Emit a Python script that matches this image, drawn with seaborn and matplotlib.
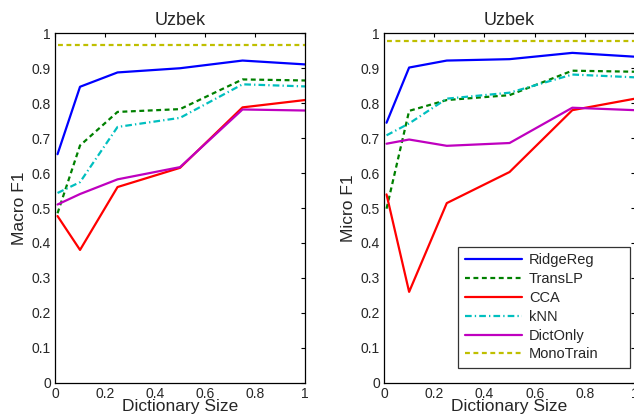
import pandas as pd
import numpy as np
import matplotlib
matplotlib.use("Agg")
import matplotlib.pyplot as plt
import seaborn as sns

# data
dict_size = [0.01, 0.1, 0.25, 0.5, 0.75, 1.0]
methods = ['RidgeReg', 'TransLP', 'CCA', 'kNN', 'DictOnly', 'MonoTrain']

macro_ridge = [0.654, 0.847, 0.888, 0.900, 0.922, 0.911]
macro_translp = [0.485, 0.679, 0.775, 0.783, 0.868, 0.865]
macro_cca = [0.477, 0.380, 0.560, 0.615, 0.788, 0.809]
macro_knn = [0.543, 0.574, 0.732, 0.758, 0.854, 0.848]
macro_dict = [0.510, 0.540, 0.582, 0.617, 0.782, 0.779]
macro_mono = [0.966] * 6

micro_ridge = [0.744, 0.902, 0.922, 0.926, 0.944, 0.933]
micro_translp = [0.498, 0.778, 0.809, 0.823, 0.893, 0.890]
micro_cca = [0.539, 0.260, 0.514, 0.603, 0.780, 0.813]
micro_knn = [0.708, 0.742, 0.813, 0.830, 0.882, 0.874]
micro_dict = [0.684, 0.696, 0.678, 0.686, 0.787, 0.780]
micro_mono = [0.977] * 6

colors = {'RidgeReg': (0, 0, 1), 'TransLP': (0, 0.5, 0), 'CCA': (1, 0, 0),
          'kNN': (0, 0.75, 0.75), 'DictOnly': (0.75, 0, 0.75), 'MonoTrain': (0.75, 0.75, 0)}
# matlab-ish short dashes
dashes = {'RidgeReg': None, 'TransLP': (2.2, 1.6), 'CCA': None,
          'kNN': (3.0, 1.4, 0.6, 1.4), 'DictOnly': None, 'MonoTrain': (2.2, 1.6)}


def to_long(vals):
    rows = []
    for m, v in zip(methods, vals):
        for x, y in zip(dict_size, v):
            rows.append({'size': x, 'f1': y, 'method': m})
    return pd.DataFrame(rows)


macro = to_long([macro_ridge, macro_translp, macro_cca, macro_knn, macro_dict, macro_mono])
micro = to_long([micro_ridge, micro_translp, micro_cca, micro_knn, micro_dict, micro_mono])

sns.set_style("white")
plt.rcParams['font.family'] = ['Liberation Sans', 'DejaVu Sans']

fig = plt.figure(figsize=(6.34, 4.2), dpi=100)
ax1 = fig.add_axes([0.0868, 0.0888, 0.3943, 0.8319])
ax2 = fig.add_axes([0.6057, 0.0888, 0.3960, 0.8319])

for ax, df, ylab in [(ax1, macro, 'Macro F1'), (ax2, micro, 'Micro F1')]:
    for m in methods:
        sub = df[df['method'] == m]
        sns.lineplot(data=sub, x='size', y='f1', ax=ax, color=colors[m],
                     linewidth=1.6, label=m, legend=False)
        if dashes[m] is not None:
            ax.lines[-1].set_dashes(dashes[m])
    ax.set_xlim(0, 1)
    ax.set_ylim(0, 1)
    ax.set_xticks(np.arange(0, 1.01, 0.2))
    ax.set_xticklabels(['0', '0.2', '0.4', '0.6', '0.8', '1'])
    ax.set_yticks(np.arange(0, 1.01, 0.1))
    ax.set_yticklabels(['0', '0.1', '0.2', '0.3', '0.4', '0.5', '0.6', '0.7', '0.8', '0.9', '1'])
    ax.tick_params(direction='in', top=True, right=True, length=3, labelsize=10,
                   width=0.8, color='black', pad=3)
    for s in ax.spines.values():
        s.set_color('black')
        s.set_linewidth(0.9)
    ax.set_xlabel('Dictionary Size', fontsize=12.5, labelpad=-1)
    ax.set_ylabel(ylab, fontsize=12.5, labelpad=3)
    ax.set_title('Uzbek', fontsize=13, pad=6)

leg = ax2.legend(loc='lower left', fontsize=10.5, frameon=True, fancybox=False,
                 edgecolor='black', handlelength=3.9, handletextpad=0.5,
                 borderpad=0.45, labelspacing=0.33, borderaxespad=0,
                 mode='expand', bbox_to_anchor=(0.295, 0.042, 0.685, 0.3))
leg.get_frame().set_linewidth(0.9)

fig.savefig('out.png', dpi=100)
